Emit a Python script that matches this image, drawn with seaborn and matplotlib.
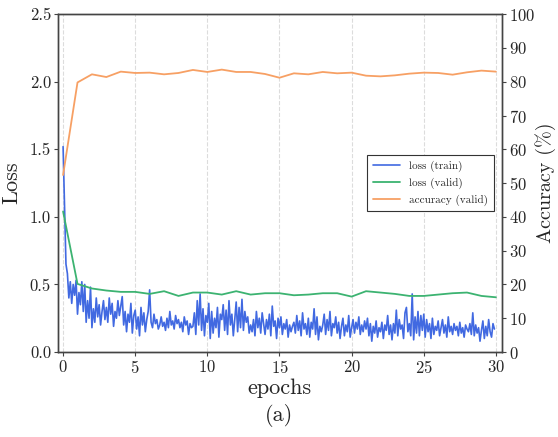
import numpy as np
import pandas as pd
import matplotlib
matplotlib.use("Agg")
import matplotlib.pyplot as plt
import seaborn as sns

# ---------------- data ----------------
epochs = list(range(0, 31))
acc_valid = [52.4, 79.8, 82.2, 81.4, 83.0, 82.6, 82.7, 82.2, 82.6, 83.5,
             82.9, 83.6, 82.9, 82.9, 82.3, 81.2, 82.5, 82.2, 82.9, 82.5,
             82.7, 81.8, 81.6, 81.9, 82.4, 82.7, 82.6, 82.1, 82.8, 83.3, 83.0]
loss_valid = [1.04, 0.504, 0.47, 0.455, 0.445, 0.445, 0.43, 0.45, 0.415, 0.44,
              0.44, 0.425, 0.45, 0.425, 0.435, 0.435, 0.42, 0.425, 0.435, 0.435,
              0.41, 0.45, 0.44, 0.43, 0.415, 0.415, 0.425, 0.435, 0.44, 0.415, 0.405]
steps_per_epoch = 10
loss_train = [
    1.52, 1.10, 0.65, 0.58, 0.40, 0.52, 0.36, 0.50, 0.42, 0.53,
    0.28, 0.44, 0.35, 0.52, 0.30, 0.50, 0.22, 0.38, 0.25, 0.48,
    0.18, 0.32, 0.22, 0.40, 0.26, 0.35, 0.20, 0.30, 0.38, 0.24,
    0.33, 0.22, 0.40, 0.28, 0.36, 0.19, 0.30, 0.25, 0.38, 0.27,
    0.34, 0.41, 0.20, 0.30, 0.15, 0.28, 0.22, 0.36, 0.14, 0.27,
    0.31, 0.17, 0.26, 0.12, 0.33, 0.20, 0.29, 0.15, 0.24, 0.30,
    0.46, 0.22, 0.18, 0.28, 0.21, 0.24, 0.17, 0.20, 0.26, 0.19,
    0.22, 0.16, 0.25, 0.18, 0.30, 0.20, 0.23, 0.17, 0.27, 0.21,
    0.24, 0.18, 0.22, 0.15, 0.26, 0.20, 0.23, 0.13, 0.21, 0.18,
    0.19, 0.29, 0.13, 0.38, 0.20, 0.43, 0.16, 0.32, 0.12, 0.27,
    0.22, 0.36, 0.10, 0.30, 0.14, 0.25, 0.18, 0.33, 0.11, 0.28,
    0.24, 0.35, 0.16, 0.31, 0.13, 0.38, 0.20, 0.28, 0.12, 0.24,
    0.37, 0.15, 0.33, 0.18, 0.39, 0.16, 0.30, 0.22, 0.26, 0.14,
    0.20, 0.15, 0.24, 0.12, 0.30, 0.18, 0.25, 0.14, 0.29, 0.21,
    0.13, 0.24, 0.17, 0.28, 0.12, 0.34, 0.19, 0.23, 0.10, 0.25,
    0.18, 0.26, 0.13, 0.21, 0.17, 0.24, 0.11, 0.20, 0.15, 0.19,
    0.22, 0.14, 0.27, 0.16, 0.23, 0.12, 0.29, 0.17, 0.21, 0.13,
    0.25, 0.11, 0.22, 0.17, 0.32, 0.13, 0.26, 0.09, 0.19, 0.15,
    0.20, 0.28, 0.13, 0.24, 0.16, 0.30, 0.12, 0.21, 0.18, 0.26,
    0.14, 0.22, 0.10, 0.19, 0.25, 0.12, 0.20, 0.15, 0.27, 0.11,
    0.18, 0.24, 0.14, 0.22, 0.17, 0.26, 0.13, 0.20, 0.15, 0.23,
    0.17, 0.25, 0.12, 0.21, 0.08, 0.19, 0.14, 0.23, 0.11, 0.18,
    0.15, 0.22, 0.10, 0.20, 0.16, 0.27, 0.13, 0.20, 0.09, 0.21,
    0.14, 0.31, 0.12, 0.24, 0.17, 0.20, 0.10, 0.29, 0.33, 0.15,
    0.21, 0.12, 0.43, 0.09, 0.26, 0.14, 0.30, 0.12, 0.27, 0.16,
    0.28, 0.11, 0.24, 0.15, 0.21, 0.10, 0.25, 0.13, 0.19, 0.16,
    0.23, 0.12, 0.18, 0.24, 0.14, 0.20, 0.11, 0.26, 0.15, 0.19,
    0.13, 0.21, 0.16, 0.19, 0.12, 0.22, 0.14, 0.18, 0.11, 0.20,
    0.17, 0.15, 0.21, 0.13, 0.29, 0.12, 0.20, 0.14, 0.18, 0.08,
    0.16, 0.23, 0.10, 0.19, 0.12, 0.24, 0.15, 0.11, 0.21, 0.17,
]
x_ticks = [0, 5, 10, 15, 20, 25, 30]
loss_ticks = [0.0, 0.5, 1.0, 1.5, 2.0, 2.5]
acc_ticks = list(range(0, 101, 10))

train_steps = np.arange(len(loss_train)) / steps_per_epoch
df_train = pd.DataFrame({"epoch": train_steps, "loss": loss_train})
df_valid = pd.DataFrame({"epoch": epochs, "loss": loss_valid, "acc": acc_valid})

# ---------------- style ----------------
sns.set_style("ticks")
plt.rcParams["font.family"] = ["cmr10", "DejaVu Serif"]
plt.rcParams["mathtext.fontset"] = "cm"
plt.rcParams["axes.formatter.use_mathtext"] = True
plt.rcParams["axes.unicode_minus"] = False

c_train = "#4169e1"
c_valid = "#3cb371"
c_acc = "#f7a064"

fig = plt.figure(figsize=(5.58, 4.37), dpi=100)
ax = fig.add_axes([0.104, 0.1945, 0.795, 0.773])
ax2 = ax.twinx()

sns.lineplot(data=df_train, x="epoch", y="loss", ax=ax, color=c_train, lw=1.2,
             label="loss (train)", legend=False)
sns.lineplot(data=df_valid, x="epoch", y="loss", ax=ax, color=c_valid, lw=1.3,
             label="loss (valid)", legend=False)
sns.lineplot(data=df_valid, x="epoch", y="acc", ax=ax2, color=c_acc, lw=1.3,
             label="accuracy (valid)", legend=False)

ax.set_xlim(-0.35, 30.4)
ax.set_ylim(0, 2.5)
ax2.set_ylim(0, 100)
ax.set_xticks(x_ticks)
ax.set_yticks(loss_ticks)
ax.set_yticklabels([f"{v:.1f}" for v in loss_ticks])
ax2.set_yticks(acc_ticks)

ax.grid(axis="x", linestyle="--", color="#dcdcdc", lw=0.8)
ax.grid(axis="y", visible=False)
ax2.grid(False)

for a in (ax, ax2):
    for s in a.spines.values():
        s.set_visible(True)
        s.set_color("#444444")
        s.set_linewidth(1.0)
    a.tick_params(labelsize=12, length=3, width=0.8, color="#444444", pad=2)

ax.set_xlabel("epochs", fontsize=16, labelpad=2)
ax.set_ylabel("Loss", fontsize=16, labelpad=6)
ax2.set_ylabel("Accuracy (%)", fontsize=14.5, labelpad=0)

h1, l1 = ax.get_legend_handles_labels()
h2, l2 = ax2.get_legend_handles_labels()
leg = ax2.legend(h1 + h2, l1 + l2, loc="center right", bbox_to_anchor=(0.995, 0.5),
                 fontsize=8, frameon=True, fancybox=False, framealpha=1,
                 edgecolor="#333333", handlelength=2.5, borderpad=0.5,
                 labelspacing=0.5)
leg.get_frame().set_linewidth(0.8)

fig.text(0.5, 0.05, "(a)", ha="center", va="center", fontsize=16)

fig.savefig("out.png", dpi=100)
